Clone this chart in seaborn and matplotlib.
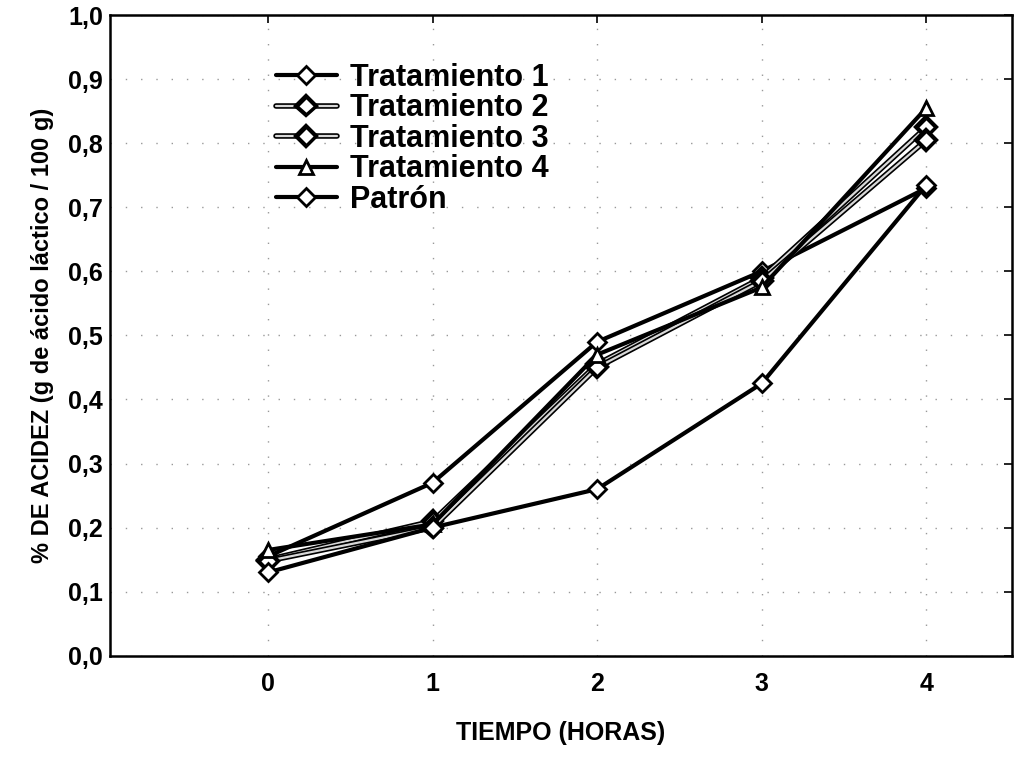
import matplotlib
matplotlib.use("Agg")
import matplotlib.pyplot as plt
import matplotlib.patheffects as pe
import seaborn as sns
import pandas as pd

# ---- data ----
tiempo = [0, 1, 2, 3, 4]
tratamiento_1 = [0.155, 0.27, 0.49, 0.60, 0.73]
tratamiento_2 = [0.150, 0.21, 0.455, 0.59, 0.825]
tratamiento_3 = [0.148, 0.20, 0.45, 0.585, 0.805]
tratamiento_4 = [0.165, 0.205, 0.47, 0.575, 0.855]
patron = [0.13, 0.20, 0.26, 0.425, 0.735]
series_names = ["Tratamiento 1", "Tratamiento 2", "Tratamiento 3", "Tratamiento 4", "Patrón"]
y_ticks = [0.0, 0.1, 0.2, 0.3, 0.4, 0.5, 0.6, 0.7, 0.8, 0.9, 1.0]
y_ticklabels = ["0,0", "0,1", "0,2", "0,3", "0,4", "0,5", "0,6", "0,7", "0,8", "0,9", "1,0"]
x_ticks = [0, 1, 2, 3, 4]
x_ticklabels = ["0", "1", "2", "3", "4"]

values = [tratamiento_1, tratamiento_2, tratamiento_3, tratamiento_4, patron]
df = pd.DataFrame({
    "tiempo": tiempo * len(series_names),
    "acidez": [v for s in values for v in s],
    "serie": [n for n in series_names for _ in tiempo],
})

sns.set_theme(style="white")
plt.rcParams["font.family"] = ["Liberation Sans", "DejaVu Sans"]
plt.rcParams["text.color"] = "black"
plt.rcParams["axes.labelcolor"] = "black"
plt.rcParams["xtick.color"] = "black"
plt.rcParams["ytick.color"] = "black"

fig = plt.figure(figsize=(10.19, 7.58), dpi=100)
ax = fig.add_axes([0.108, 0.135, 0.885, 0.845])

styles = {
    "Tratamiento 1": dict(marker="D", gray=False),
    "Tratamiento 2": dict(marker="D", gray=True),
    "Tratamiento 3": dict(marker="D", gray=True),
    "Tratamiento 4": dict(marker="^", gray=False),
    "Patrón": dict(marker="D", gray=False),
}

for name in series_names:
    st = styles[name]
    sub = df[df["serie"] == name]
    if st["gray"]:
        kw = dict(color="#d8d8d8", linewidth=1.6,
                  path_effects=[pe.Stroke(linewidth=4.0, foreground="black"), pe.Normal()])
    else:
        kw = dict(color="black", linewidth=3.0)
    sns.lineplot(data=sub, x="tiempo", y="acidez", ax=ax, label=name,
                 marker=st["marker"], markersize=9 if st["marker"] == "D" else 10,
                 markerfacecolor="white", markeredgecolor="black",
                 markeredgewidth=2.0, **kw)

ax.set_xlim(-0.96, 4.52)
ax.set_ylim(0, 1.0)
ax.set_xticks(x_ticks)
ax.set_xticklabels(x_ticklabels, fontsize=18, fontweight="bold")
ax.set_yticks(y_ticks)
ax.set_yticklabels(y_ticklabels, fontsize=18, fontweight="bold")
ax.tick_params(direction="in", length=6, width=1.2, top=True, right=True, color="black")
ax.tick_params(axis="y", pad=5)
ax.tick_params(axis="x", pad=12)
for s in ax.spines.values():
    s.set_color("black")
    s.set_linewidth(1.8)
ax.grid(True, color="#999999", linestyle=(0, (1, 10)), linewidth=1.0)

ax.set_xlabel("TIEMPO (HORAS)", fontsize=18, fontweight="bold", labelpad=18)
ax.set_ylabel("% DE ACIDEZ (g de ácido láctico / 100 g)", fontsize=17,
              fontweight="bold", labelpad=10)

leg = ax.legend(loc="upper left", bbox_to_anchor=(0.17, 0.945), frameon=False,
                prop={"size": 22, "weight": "bold"}, handlelength=2.0,
                labelspacing=0.02, handletextpad=0.45, borderaxespad=0)
for t in leg.get_texts():
    t.set_color("black")

fig.savefig("out.png", dpi=100)
